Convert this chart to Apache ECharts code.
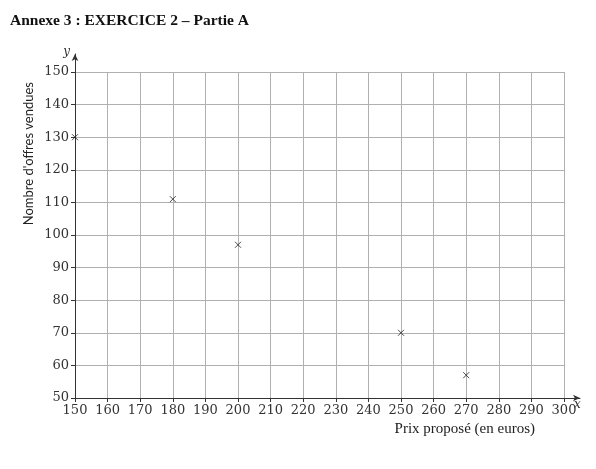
<!DOCTYPE html>
<html>
<head>
<meta charset="utf-8">
<script src="https://cdn.jsdelivr.net/npm/echarts@6/dist/echarts.min.js"></script>
<style>
  html, body { margin: 0; padding: 0; background: #fff; }
  #chart { width: 596px; height: 469px; }
</style>
</head>
<body>
<div id="chart"></div>
<script>
// prix proposé (en euros) / nombre d'offres vendues
var prix = [150, 180, 200, 250, 270]
var offres = [130, 111, 97, 70, 57]

var xMin = 150
var xMax = 300
var xStep = 10
var yMin = 50
var yMax = 150
var yStep = 10

var serif = 'DejaVu Serif'
var points = prix.map(function (p, i) { return [p, offres[i]] })

var chart = echarts.init(document.getElementById('chart'))
var option = {
  animation: false,
  backgroundColor: '#fff',
  title: {
    text: 'Annexe 3 : EXERCICE 2 – Partie A',
    left: 5,
    top: 8,
    textStyle: { fontFamily: 'Liberation Serif', fontWeight: 'bold', fontSize: 15.5, color: '#111' }
  },
  grid: [
    { left: 75, right: 32, top: 72, bottom: 71 },
    // slightly larger grid only used for the axis lines with arrows
    { left: 75, right: 16, top: 54, bottom: 71 }
  ],
  xAxis: [
    {
      type: 'value',
      gridIndex: 0,
      min: xMin,
      max: xMax,
      interval: xStep,
      axisLine: { show: false },
      axisTick: { show: true, length: 4, lineStyle: { color: '#333' } },
      axisLabel: { fontFamily: serif, fontSize: 13, color: '#333', margin: 6 },
      splitLine: { show: true, lineStyle: { color: '#b0b0b0', width: 1 } }
    },
    {
      type: 'value',
      gridIndex: 1,
      min: 0,
      max: 1,
      axisLine: { show: true, symbol: ['none', 'arrow'], symbolSize: [5, 7], lineStyle: { color: '#333', width: 1 } },
      axisTick: { show: false },
      axisLabel: { show: false },
      splitLine: { show: false },
      name: 'x',
      nameLocation: 'end',
      nameGap: -6,
      nameTextStyle: { fontFamily: serif, fontStyle: 'italic', fontSize: 12, color: '#333', verticalAlign: 'top', padding: [1, 0, 0, 0] }
    }
  ],
  yAxis: [
    {
      type: 'value',
      gridIndex: 0,
      min: yMin,
      max: yMax,
      interval: yStep,
      axisLine: { show: false },
      axisTick: { show: true, length: 4, lineStyle: { color: '#333' } },
      axisLabel: { fontFamily: serif, fontSize: 13, color: '#333', margin: 6 },
      splitLine: { show: true, lineStyle: { color: '#b0b0b0', width: 1 } }
    },
    {
      type: 'value',
      gridIndex: 1,
      min: 0,
      max: 1,
      axisLine: { show: true, symbol: ['none', 'arrow'], symbolSize: [5, 7], lineStyle: { color: '#333', width: 1 } },
      axisTick: { show: false },
      axisLabel: { show: false },
      splitLine: { show: false },
      name: 'y',
      nameLocation: 'end',
      nameGap: -4,
      nameTextStyle: { fontFamily: serif, fontStyle: 'italic', fontSize: 12, color: '#333', align: 'right', padding: [0, 5, 0, 0] }
    }
  ],
  graphic: [
    {
      type: 'text',
      left: 22,
      top: 82,
      rotation: Math.PI / 2,
      style: {
        text: "Nombre d'offres vendues",
        font: '13px Lato',
        fill: '#222'
      }
    },
    {
      type: 'text',
      right: 61,
      top: 422,
      style: {
        text: 'Prix proposé (en euros)',
        font: '15px "Liberation Serif"',
        fill: '#222'
      }
    }
  ],
  series: [
    {
      type: 'scatter',
      xAxisIndex: 0,
      yAxisIndex: 0,
      data: points,
      symbol: 'path://M0,0L10,10M10,0L0,10',
      symbolSize: 6,
      itemStyle: { color: 'none', borderColor: '#222', borderWidth: 1 }
    }
  ]
}
chart.setOption(option)
</script>
</body>
</html>
